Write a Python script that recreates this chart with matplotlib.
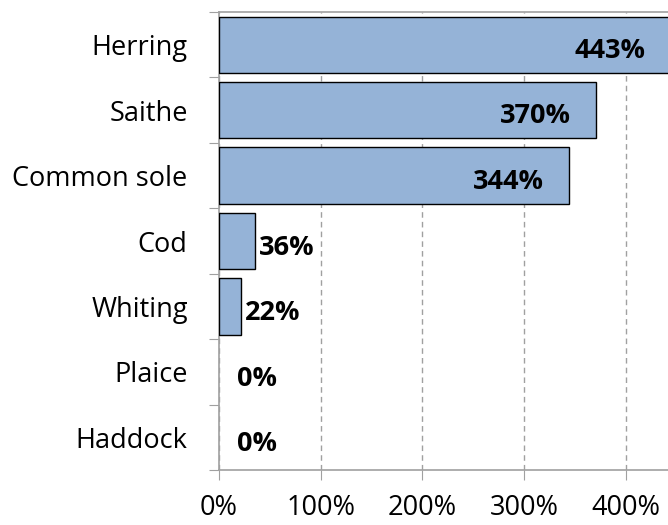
import matplotlib
matplotlib.use("Agg")
import matplotlib.pyplot as plt
import numpy as np

species = ["Herring", "Saithe", "Common sole", "Cod", "Whiting", "Plaice", "Haddock"]
values = [443, 370, 344, 36, 22, 0, 0]
xticks = [0, 100, 200, 300, 400]

plt.rcParams["font.family"] = ["Open Sans", "DejaVu Sans"]

W, H = 668, 525
PT = 72 / 100  # points per pixel at dpi 100
fig = plt.figure(figsize=(W / 100, H / 100), dpi=100)
# axes in pixels: left 218.7, top 12, bottom 470, right past the figure edge
x0, y_top, y_bot = 218.7, 12, 470
px_per = 1.019  # pixels per percent
xmax = 450
ax = fig.add_axes([x0 / W, 1 - y_bot / H, xmax * px_per / W, (y_bot - y_top) / H])

pos = np.arange(len(species))
lw = [1.0 if v > 0 else 0 for v in values]
ax.barh(pos, values, height=0.86, color="#95B3D7", edgecolor="black", linewidth=lw, zorder=3)

ax.set_xlim(0, xmax)
ax.set_ylim(len(species) - 0.5, -0.5)

fs = 19.5
ax.set_xticks(xticks)
ax.set_xticklabels([f"{t}%" for t in xticks], fontsize=fs)
ax.tick_params(axis="x", length=10 * PT, color="#A0A0A0", pad=14 * PT)

ax.set_yticks(np.arange(len(species) + 1) - 0.5)
ax.set_yticklabels([])
ax.tick_params(axis="y", which="major", length=10 * PT, color="#A0A0A0")
ax.set_yticks(pos, minor=True)
ax.set_yticklabels(species, minor=True, fontsize=fs)
ax.tick_params(axis="y", which="minor", length=0, pad=31 * PT)

ax.xaxis.grid(True, linestyle=(0, (4, 3)), color="#A0A0A0", linewidth=1, zorder=0)
for s in ["left", "bottom", "top"]:
    ax.spines[s].set_color("#A0A0A0")
    ax.spines[s].set_linewidth(1.2)
ax.spines["right"].set_visible(False)

for p, v in zip(pos, values):
    if v > 100:
        ax.annotate(f"{v}%", (v, p), xytext=(-25 * PT, -6 * PT), textcoords="offset points",
                    ha="right", va="center", fontsize=fs, fontweight="bold", zorder=4)
    else:
        ax.annotate(f"{v}%", (v, p), xytext=((4 if v > 0 else 18) * PT, -7 * PT),
                    textcoords="offset points",
                    ha="left", va="center", fontsize=fs, fontweight="bold", zorder=4)

fig.savefig("out.png", dpi=100)
